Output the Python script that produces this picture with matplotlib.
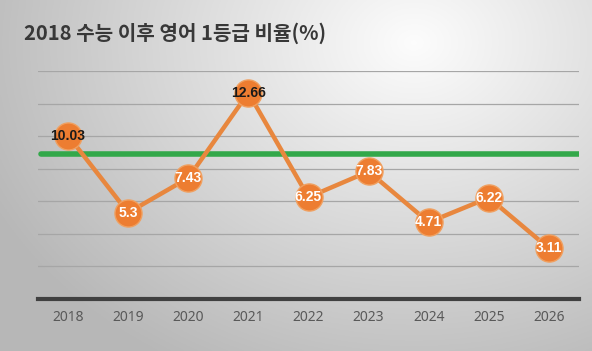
import numpy as np
import matplotlib
matplotlib.use("Agg")
import matplotlib.pyplot as plt

plt.rcParams['font.family'] = ['Noto Sans CJK KR', 'DejaVu Sans']

years = ['2018', '2019', '2020', '2021', '2022', '2023', '2024', '2025', '2026']
ratios = [10.03, 5.3, 7.43, 12.66, 6.25, 7.83, 4.71, 6.22, 3.11]
reference_level = 8.9
title = '2018 수능 이후 영어 1등급 비율(%)'
dark_label_years = ['2018', '2021']

W, H = 592, 351
fig = plt.figure(figsize=(W / 100, H / 100), dpi=100)

# background radial gradient
bg = fig.add_axes([0, 0, 1, 1], zorder=0)
bg.set_axis_off()
yy, xx = np.mgrid[0:1:200j, 0:1:340j]
cx, cy = 0.70, 0.12
d = np.sqrt(((xx - cx) * 1.0) ** 2 + ((yy - cy) * 0.75) ** 2)
val = 0.99 - 0.34 * d
val = np.clip(val, 0.72, 0.99)
img = np.dstack([val, val, val])
bg.imshow(img, extent=[0, 1, 0, 1], aspect='auto', origin='upper')

ax = fig.add_axes([38 / W, 1 - 299 / H, (579 - 38) / W, (299 - 71) / H], zorder=1)
ax.patch.set_alpha(0)
x = np.arange(len(years))
ax.set_xlim(-0.5, len(years) - 0.5)
ax.set_ylim(0, 14)

for yv in np.arange(2, 15, 2):
    ax.axhline(yv, color='#a6a6a6', lw=0.9, zorder=1)

for s in ['top', 'left', 'right']:
    ax.spines[s].set_visible(False)
ax.spines['bottom'].set_color('#404040')
ax.spines['bottom'].set_linewidth(3)
ax.set_yticks([])
ax.set_xticks(x)
ax.set_xticklabels(years, fontsize=10, color='#595959', family=['Noto Sans', 'DejaVu Sans'])
ax.tick_params(axis='x', length=0, pad=8)

ax.plot([-0.45, len(years) - 0.47], [reference_level, reference_level], color='#33a84a',
        lw=4, solid_capstyle='round', zorder=2)

ax.plot(x, ratios, color='#e8873e', lw=3.2, zorder=3,
        marker='o', markersize=19.5, markerfacecolor='#ed7d31',
        markeredgecolor='#f0a060', markeredgewidth=1.0)

for xi, yr, v in zip(x, years, ratios):
    c = '#1a1a1a' if yr in dark_label_years else 'white'
    ax.text(xi, v, f'{v:g}', ha='center', va='center', fontsize=10,
            fontweight='bold', color=c, zorder=5, family=['Liberation Sans', 'DejaVu Sans'])

fig.text(24 / W, 1 - 33 / H, title, fontsize=14.5, fontweight='bold', color='#383838',
         ha='left', va='center')

fig.savefig('out.png', dpi=100)
